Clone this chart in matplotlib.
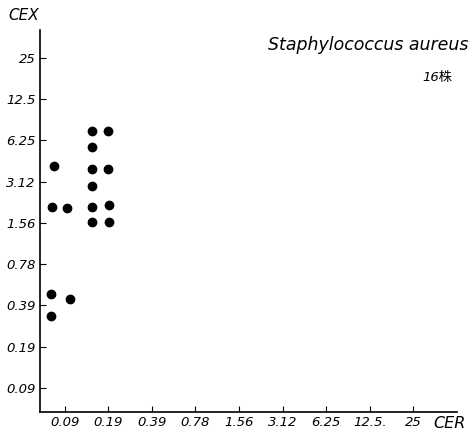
import numpy as np
import matplotlib.pyplot as plt

# dilution levels (same on both axes)
levels = 25 / 2.0 ** np.arange(8, -1, -1)
x_labels = ["0.09", "0.19", "0.39", "0.78", "1.56", "3.12", "6.25", "12.5.", "25"]
y_labels = ["0.09", "0.19", "0.39", "0.78", "1.56", "3.12", "6.25", "12.5", "25"]

# MIC of each strain (16 strains)
cer = [0.150, 0.195, 0.150, 0.083, 0.150, 0.195, 0.150, 0.080,
       0.102, 0.152, 0.197, 0.152, 0.197, 0.079, 0.107, 0.079]
cex = [7.28, 7.28, 5.64, 4.05, 3.88, 3.88, 2.92, 2.03,
       2.01, 2.03, 2.12, 1.59, 1.59, 0.471, 0.434, 0.326]

fig = plt.figure(figsize=(4.76, 4.30), dpi=100)
ax = fig.add_axes([0.084, 0.042, 0.876, 0.888])

ax.scatter(cer, cex, s=36, color="black", zorder=3)

ax.set_xscale("log", base=2)
ax.set_yscale("log", base=2)
ax.set_xlim(0.066, 50)
ax.set_ylim(0.065, 40)

ax.set_xticks(levels)
ax.set_xticklabels(x_labels, fontstyle="italic", fontsize=9.5)
ax.set_yticks(levels)
ax.set_yticklabels(y_labels, fontstyle="italic", fontsize=9.5)
ax.minorticks_off()
ax.tick_params(direction="in", length=4, width=0.8, pad=3)

for s in ["top", "right"]:
    ax.spines[s].set_visible(False)
ax.spines["left"].set_linewidth(1.2)
ax.spines["bottom"].set_linewidth(1.2)

fig.text(0.018, 0.965, "CEX", fontstyle="italic", fontsize=11, va="center")
fig.text(0.978, 0.016, "CER", fontstyle="italic", fontsize=11.5, ha="right",
         va="center")
fig.text(0.985, 0.895, "Staphylococcus aureus", fontstyle="italic",
         fontsize=12.5, ha="right", va="center")
fig.text(0.95, 0.82, "16株", fontstyle="italic", fontsize=9.5, ha="right",
         va="center", family=["DejaVu Sans", "Noto Sans CJK JP"])

fig.savefig("out.png", dpi=100)
